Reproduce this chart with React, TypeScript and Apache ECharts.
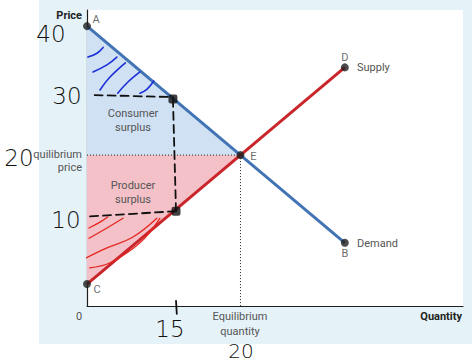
import React, { useEffect, useRef } from "react";
import * as echarts from "echarts";

// Diagram values (quantity, price)
const demandLine = [[0, 40], [33.6, 6.4]];
const supplyLine = [[0, 0], [33.6, 33.6]];
const consumerEdge = [[0, 40], [20, 20]];
const producerEdge = [[0, 0], [20, 20]];
const eqPrice = 20;
const eqQuantity = 20;
const pointNames = ["A", "B", "C", "D", "E"];
const pointQ = [0, 33.6, 0, 33.6, 20];
const pointP = [40, 6.4, 0, 33.6, 20];

// Hand-drawn annotations (quantity, price)
const handDashH1 = [[1.0, 29.3], [11.2, 29.0]];
const handDashV = [[11.2, 28.7], [11.6, 11.3]];
const handDashH2 = [[0.4, 10.5], [11.6, 11.3]];
const handTick = [[11.6, -2.6], [11.7, -4.6]];
const handDots = [[11.2, 28.7], [11.6, 11.3]];
const blueStrokes = [
  [[0.13, 35.2], [1.3, 35.8], [2.1, 36.7]],
  [[0.78, 32.9], [2.6, 34.0], [3.9, 35.2]],
  [[1.7, 30.1], [3.0, 32.1], [5.0, 34.3]],
  [[4.0, 29.6], [5.3, 31.3], [6.9, 32.9]],
  [[6.9, 29.6], [7.8, 30.2], [8.7, 31.5]],
];
const redStrokes = [
  [[0.26, 8.7], [1.7, 9.6], [2.7, 10.4]],
  [[0.26, 7.1], [2.6, 8.7], [4.7, 10.2]],
  [[-0.2, 4.0], [2.6, 5.6], [6.0, 7.3], [9.1, 10.2]],
  [[0.35, 2.5], [3.0, 3.3], [6.9, 6.4], [9.5, 10.2]],
];
const handNumbers = ["40", "30", "20", "10", "15", "20"];

const labelFont = "Roboto, 'Noto Sans', sans-serif";
const handFont = "'DejaVu Sans', sans-serif";

export default function App() {
  const ref = useRef<HTMLDivElement>(null);
  useEffect(() => {
    if (!ref.current) return;
    const chart = echarts.init(ref.current, undefined, { renderer: "svg" });

    const handLine = (data: number[][], color: string, width: number, dashed: boolean) => ({
      type: "line",
      data,
      symbol: "none",
      clip: false,
      silent: true,
      smooth: 0.4,
      z: 6,
      lineStyle: { color, width, type: dashed ? [8, 5] : "solid", cap: "round" },
    });

    const series: any[] = [
      {
        type: "line",
        data: consumerEdge,
        symbol: "none",
        lineStyle: { width: 0 },
        areaStyle: { color: "#cfe1f3", opacity: 1, origin: eqPrice },
        z: 1,
      },
      {
        type: "line",
        data: producerEdge,
        symbol: "none",
        lineStyle: { width: 0 },
        areaStyle: { color: "#f4c1c8", opacity: 1, origin: eqPrice },
        z: 1,
      },
      {
        type: "line",
        data: [[0, eqPrice], [eqQuantity, eqPrice]],
        symbol: "none",
        lineStyle: { color: "#222", width: 1, type: [1, 2] },
        z: 2,
      },
      {
        type: "line",
        data: [[eqQuantity, eqPrice], [eqQuantity, -3.4]],
        symbol: "none",
        lineStyle: { color: "#222", width: 1, type: [1, 2] },
        z: 2,
      },
      {
        type: "line",
        data: demandLine,
        symbol: "none",
        lineStyle: { color: "#4274b5", width: 3 },
        z: 3,
      },
      {
        type: "line",
        data: supplyLine,
        symbol: "none",
        lineStyle: { color: "#c9262c", width: 3 },
        z: 3,
      },
      {
        type: "scatter",
        data: pointNames.map((n, i) => ({ value: [pointQ[i], pointP[i]], name: n })),
        symbolSize: 8,
        itemStyle: { color: "#1e1e1e" },
        clip: false,
        z: 4,
        label: {
          show: true,
          formatter: "{b}",
          color: "#444",
          fontFamily: labelFont,
          fontSize: 11,
        },
        labelLayout: (p: any) => {
          const offs: Record<string, number[]> = {
            A: [9, -7],
            B: [0, 11],
            C: [10, 5],
            D: [0, -10],
            E: [13, 1],
          };
          const o = offs[p.text] || [0, 0];
          const r = p.rect;
          return { x: r.x + r.width / 2 + o[0] - (p.labelRect.width / 2), y: r.y + r.height / 2 + o[1] - p.labelRect.height / 2 };
        },
      },
      handLine(handDashH1, "#111", 1.8, true),
      handLine(handDashV, "#111", 1.8, true),
      handLine(handDashH2, "#111", 1.8, true),
      handLine(handTick, "#111", 1.8, false),
      ...blueStrokes.map((s) => handLine(s, "#1b2fd8", 1.6, false)),
      ...redStrokes.map((s) => handLine(s, "#e3261f", 1.3, false)),
      {
        type: "scatter",
        data: handDots,
        symbol: "roundRect",
        symbolSize: 9,
        itemStyle: { color: "#111" },
        z: 7,
      },
    ];

    const txt = (text: string, x: number, y: number, align: string, opts: any = {}) => ({
      type: "text",
      x,
      y,
      silent: true,
      style: {
        text,
        fill: opts.fill || "#555",
        font: opts.font || `11px ${labelFont}`,
        align,
        verticalAlign: "middle",
      },
      z: 20,
    });
    const hand = `200 23px ${handFont}`;

    chart.setOption({
      animation: false,
      grid: {
        left: 87,
        top: 10,
        width: 376,
        height: 296,
        show: true,
        backgroundColor: "#ffffff",
        borderWidth: 0,
      },
      xAxis: {
        type: "value",
        min: 0,
        max: 49,
        axisLine: { show: true, onZero: false, lineStyle: { color: "#1e1e1e", width: 1.2 } },
        axisTick: { show: false },
        axisLabel: { show: false },
        splitLine: { show: false },
      },
      yAxis: {
        type: "value",
        min: -3.4,
        max: 42.5,
        axisLine: { show: true, onZero: false, lineStyle: { color: "#1e1e1e", width: 1.2 } },
        axisTick: { show: false },
        axisLabel: { show: false },
        splitLine: { show: false },
      },
      series,
      graphic: [
        txt("Price", 82, 15, "right", { font: `bold 11px ${labelFont}`, fill: "#222" }),
        txt("Consumer", 133, 113, "center"),
        txt("surplus", 133, 127, "center"),
        txt("Producer", 133, 185, "center"),
        txt("surplus", 133, 199, "center"),
        txt("quilibrium", 82, 154, "right"),
        txt("price", 82, 167, "right"),
        txt("Supply", 357, 67, "left"),
        txt("Demand", 357, 243, "left"),
        txt("0", 79, 316, "center"),
        txt("Equilibrium", 240, 316, "center"),
        txt("quantity", 240, 331, "center"),
        txt("Quantity", 462, 316, "right", { font: `bold 11px ${labelFont}`, fill: "#222" }),
        txt(handNumbers[0], 51, 34, "center", { font: hand, fill: "#111" }),
        txt(handNumbers[1], 67, 96, "center", { font: hand, fill: "#111" }),
        txt(handNumbers[2], 19, 158, "center", { font: hand, fill: "#111" }),
        txt(handNumbers[3], 66, 220, "center", { font: hand, fill: "#111" }),
        txt(handNumbers[4], 170, 329, "center", { font: hand, fill: "#111" }),
        txt(handNumbers[5], 241, 351, "center", { font: `200 20px ${handFont}`, fill: "#111" }),
      ],
    });
    return () => chart.dispose();
  }, []);

  return (
    <div style={{ position: "absolute", left: 0, top: 0, width: 472, height: 362, background: "#ffffff" }}>
      <div style={{ position: "absolute", left: 39, top: 0, width: 433, height: 344, background: "#e5f2f8" }} />
      <div ref={ref} style={{ position: "absolute", left: 0, top: 0, width: 472, height: 362 }} />
    </div>
  );
}
